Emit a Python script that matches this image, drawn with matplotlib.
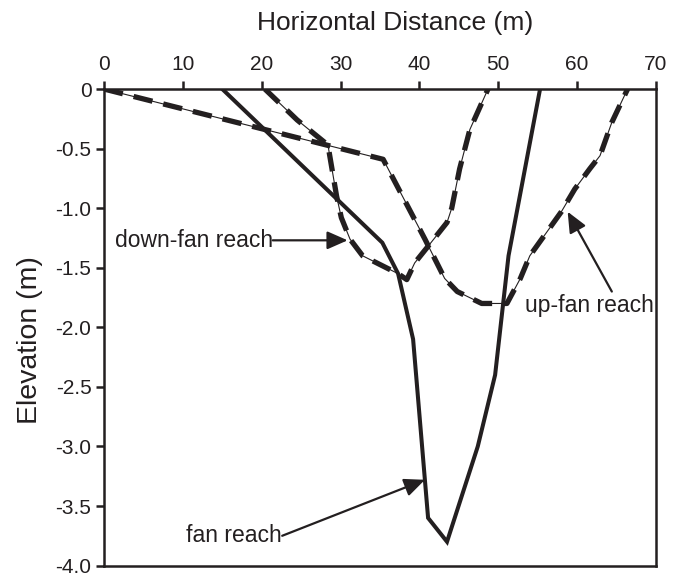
import matplotlib
matplotlib.use("Agg")
import matplotlib.pyplot as plt

plt.rcParams['font.family'] = ['Liberation Sans', 'DejaVu Sans']
plt.rcParams['lines.scale_dashes'] = False

INK = '#231f20'

# fan reach (solid)
fan_x = [15, 35.3, 37.3, 39.2, 41.1, 43.5, 47.4, 49.6, 51.3, 55.3]
fan_y = [0, -1.29, -1.55, -2.1, -3.6, -3.8, -3.0, -2.4, -1.4, 0]

# down-fan reach (dashed)
down_x = [20.4, 24.5, 28.4, 29.5, 30.1, 31.2, 32.8, 37.3, 38.4, 39.4, 41.1,
          43.5, 44.1, 45.1, 46.4, 48.7]
down_y = [0, -0.26, -0.47, -0.9, -1.08, -1.26, -1.4, -1.55, -1.6, -1.46, -1.32,
          -1.12, -1.0, -0.67, -0.34, 0]

# up-fan reach (dashed)
up_x = [0, 35.4, 40.7, 43.2, 44.8, 47.9, 51.1, 52.8, 54.0, 58.0, 59.7, 61.6,
        62.9, 64.4, 66.4]
up_y = [0, -0.59, -1.26, -1.59, -1.7, -1.8, -1.8, -1.59, -1.4, -1.03, -0.84,
        -0.67, -0.56, -0.28, 0]

xticks = [0, 10, 20, 30, 40, 50, 60, 70]
yticks = [0, -0.5, -1.0, -1.5, -2.0, -2.5, -3.0, -3.5, -4.0]
ylabels = ['0', '-0.5', '-1.0', '-1.5', '-2.0', '-2.5', '-3.0', '-3.5', '-4.0']

fig = plt.figure(figsize=(6.76, 5.78), dpi=100)
ax = fig.add_axes([0.1538, 0.0215, 0.8166, 0.8245])


def dashed_profile(x, y):
    ax.plot(x, y, color=INK, lw=0.8, solid_joinstyle='miter')
    ln, = ax.plot(x, y, color=INK, lw=3.8, solid_capstyle='butt')
    ln.set_dashes([14, 8])


ax.plot(fan_x, fan_y, color=INK, lw=2.9, solid_joinstyle='miter')
dashed_profile(down_x, down_y)
dashed_profile(up_x, up_y)

arrow = dict(arrowstyle='-|>,head_length=1.25,head_width=0.55', color=INK,
             lw=1.6, shrinkA=0, shrinkB=0)
ax.annotate('', xy=(30.9, -1.27), xytext=(21.4, -1.27), arrowprops=arrow)
ax.text(21.4, -1.27, 'down-fan reach', ha='right', va='center', fontsize=16.5,
        color=INK)
ax.annotate('', xy=(40.7, -3.28), xytext=(22.6, -3.75), arrowprops=arrow)
ax.text(22.6, -3.75, 'fan reach', ha='right', va='center', fontsize=16.5,
        color=INK)
ax.annotate('', xy=(58.8, -1.03), xytext=(64.4, -1.70), arrowprops=arrow)
ax.text(69.7, -1.82, 'up-fan reach', ha='right', va='center', fontsize=16.5,
        color=INK)

ax.set_xlim(0, 70)
ax.set_ylim(-4.0, 0)
ax.xaxis.tick_top()
ax.set_xticks(xticks)
ax.set_yticks(yticks)
ax.set_yticklabels(ylabels)
ax.tick_params(axis='x', direction='out', length=6, width=1.8, labelsize=15,
               colors=INK, pad=5)
ax.tick_params(axis='y', direction='out', length=6, width=1.8, labelsize=15,
               colors=INK, pad=3)
for s in ax.spines.values():
    s.set_color(INK)
    s.set_linewidth(1.8)

fig.text(395 / 676, 1 - 23 / 578, 'Horizontal Distance (m)', ha='center',
         va='center', fontsize=19, color=INK)
fig.text(30 / 676, 1 - 340 / 578, 'Elevation (m)', ha='center', va='center',
         rotation=90, fontsize=20.5, color=INK)

fig.savefig('out.png', dpi=100)
